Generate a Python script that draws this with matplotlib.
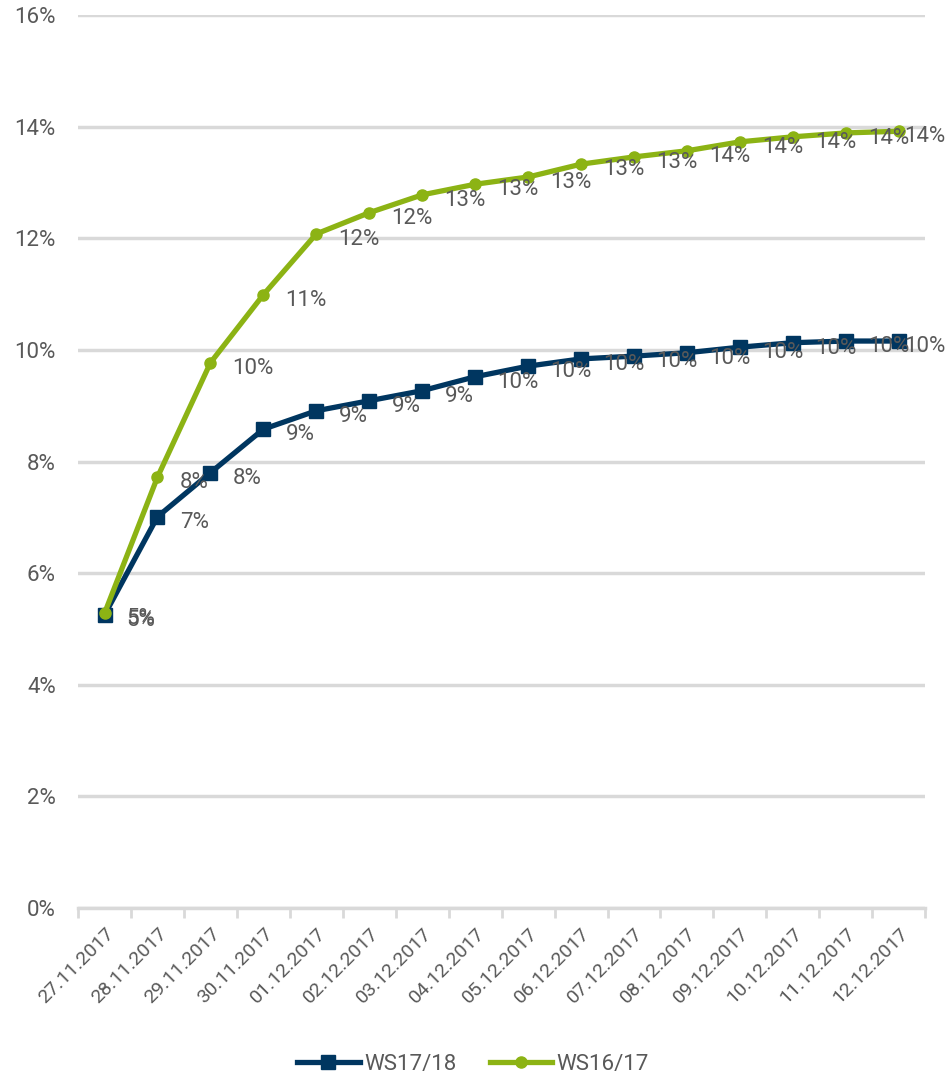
import matplotlib.pyplot as plt

dates = ["27.11.2017", "28.11.2017", "29.11.2017", "30.11.2017", "01.12.2017", "02.12.2017",
         "03.12.2017", "04.12.2017", "05.12.2017", "06.12.2017", "07.12.2017", "08.12.2017",
         "09.12.2017", "10.12.2017", "11.12.2017", "12.12.2017"]
ws1718 = [5.25, 7.01, 7.80, 8.58, 8.91, 9.09, 9.27, 9.52, 9.71, 9.84, 9.89, 9.95,
          10.05, 10.13, 10.16, 10.16]
ws1617 = [5.28, 7.72, 9.77, 10.99, 12.08, 12.46, 12.78, 12.97, 13.10, 13.33, 13.46, 13.57,
          13.73, 13.82, 13.89, 13.92]

plt.rcParams['font.family'] = ['Roboto', 'DejaVu Sans']
txt = '#595959'
navy = '#003660'
green = '#8cb314'

fig = plt.figure(figsize=(9.46, 10.86), dpi=100)
ax = fig.add_axes([0.0825, 0.164, 0.8955, 0.822])

x = list(range(len(dates)))
ax.plot(x, ws1718, color=navy, lw=3.8, marker='s', ms=10, label='WS17/18', zorder=3)
ax.plot(x, ws1617, color=green, lw=3.8, marker='o', ms=8, label='WS16/17', zorder=4)

# Beschriftungen rechts neben den Punkten, die letzte etwas eingerueckt
for series in (ws1718, ws1617):
    for xi, v in zip(x, series):
        dx = 4 if xi == x[-1] else 16
        ax.annotate(f"{v:.0f}%", (xi, v), xytext=(dx, -4), textcoords='offset points',
                    ha='left', va='center', fontsize=16, color=txt, zorder=5,
                    annotation_clip=False)

ax.set_xlim(-0.5, len(dates) - 0.5)
ax.set_ylim(0, 16)
ax.set_yticks(range(0, 17, 2))
ax.set_yticklabels([f"{t}%" for t in range(0, 17, 2)], fontsize=16, color=txt)
ax.yaxis.grid(True, color='#d9d9d9', lw=2.5)
ax.set_axisbelow(True)
ax.tick_params(axis='y', length=0, pad=16)

ax.set_xticks(x)
ax.set_xticklabels(dates, rotation=45, ha='right', rotation_mode='anchor', fontsize=14, color=txt)
ax.set_xticks([i - 0.5 for i in range(len(dates) + 1)], minor=True)
ax.tick_params(axis='x', which='major', length=0, pad=12)
ax.tick_params(axis='x', which='minor', length=7, width=2, color='#d9d9d9')

for s in ['top', 'right', 'left']:
    ax.spines[s].set_visible(False)
ax.spines['bottom'].set_color('#d9d9d9')
ax.spines['bottom'].set_linewidth(2.5)

fig.legend(loc='lower center', bbox_to_anchor=(0.5, -0.008), ncol=2, frameon=False,
           fontsize=16, labelcolor=txt, handlelength=2.8, handletextpad=0.2, columnspacing=1.5)

fig.savefig('out.png', dpi=100)
